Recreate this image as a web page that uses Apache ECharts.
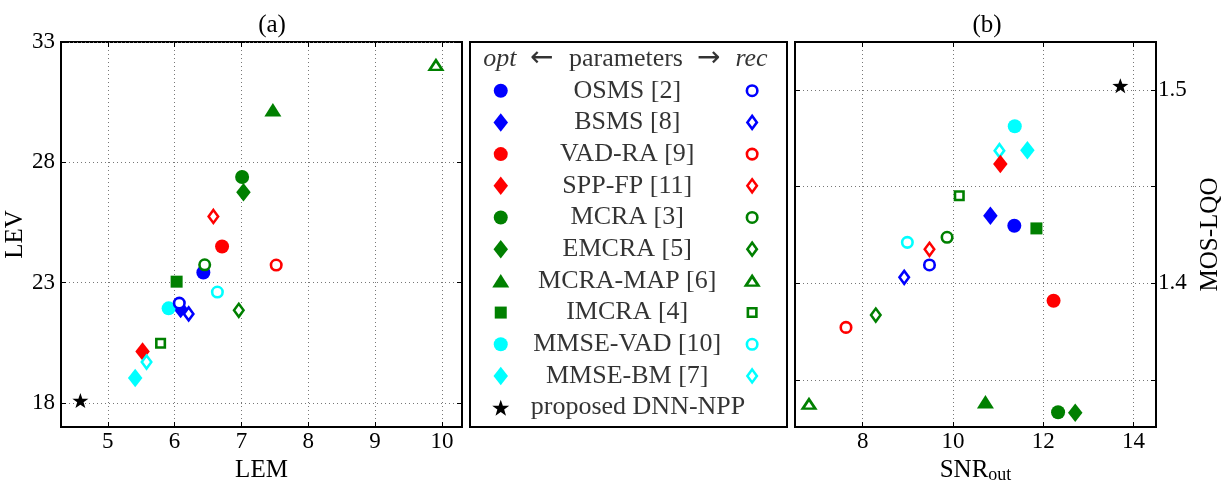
<!DOCTYPE html>
<html>
<head>
<meta charset="utf-8">
<script src="https://cdn.jsdelivr.net/npm/echarts@6/dist/echarts.min.js"></script>
<style>html,body{margin:0;padding:0;background:#fff;}#c{width:1231px;height:481px;}</style>
</head>
<body>
<div id="c"></div>
<script>
// ---------------- DATA ----------------
const methods = ['OSMS [2]', 'BSMS [8]', 'VAD-RA [9]', 'SPP-FP [11]', 'MCRA [3]', 'EMCRA [5]', 'MCRA-MAP [6]', 'IMCRA [4]', 'MMSE-VAD [10]', 'MMSE-BM [7]'];
// (a) LEM / LEV
const lemOpt = [6.43, 6.09, 6.71, 5.52, 7.01, 7.03, 7.47, 6.03, 5.91, 5.41];
const levOpt = [23.42, 21.90, 24.50, 20.14, 27.39, 26.76, 30.18, 23.04, 21.93, 19.04];
const lemRec = [6.07, 6.21, 7.52, 6.58, 6.45, 6.96, 9.91, 5.79, 6.64, 5.58];
const levRec = [22.15, 21.70, 23.73, 25.75, 23.74, 21.85, 32.04, 20.48, 22.61, 19.70];
// (b) SNRout / MOS-LQO
const snrOpt = [11.36, 10.83, 12.23, 11.05, 12.33, 12.71, 10.72, 11.85, 11.37, 11.65];
const mosOpt = [1.4298, 1.4350, 1.3910, 1.4617, 1.3333, 1.3331, 1.3388, 1.4284, 1.4812, 1.4688];
const snrRec = [9.48, 8.92, 7.63, 9.48, 9.87, 8.29, 6.81, 10.14, 8.99, 11.03];
const mosRec = [1.4095, 1.4031, 1.3772, 1.4176, 1.4238, 1.3836, 1.3376, 1.4453, 1.4212, 1.4686];
// proposed
const proposedName = 'proposed DNN-NPP';
const proposedLEM = [4.59];
const proposedLEV = [18.10];
const proposedSNR = [13.71];
const proposedMOS = [1.5022];
// ticks
const ticksLEM = [5, 6, 7, 8, 9, 10];
const ticksLEV = [18, 23, 28, 33];
const ticksSNR = [8, 10, 12, 14];
const ticksMOS = [1.35, 1.4, 1.45, 1.5];
const labelsMOS = [1.4, 1.5];
const legendHeader = ['opt', '←', 'parameters', '→', 'rec'];

// ---------------- STYLE ----------------
const FONT = 'Liberation Serif';
const colors = ['#0000ff', '#0000ff', '#ff0000', '#ff0000', '#008000', '#008000', '#008000', '#008000', '#00ffff', '#00ffff'];
const shapes = ['circle', 'diamond', 'circle', 'diamond', 'circle', 'diamond', 'triangle', 'rect', 'circle', 'diamond'];
const filledSize = { circle: [14, 14], diamond: [14.5, 18.5], triangle: [17, 13.5], rect: [12, 12] };
const openSize = { circle: [10.5, 10.5], diamond: [9.5, 13], triangle: [12.5, 9.5], rect: [8.5, 8.5] };
const STAR = 'path://M0,-10L2.35,-3.24L9.51,-3.09L3.8,1.24L5.88,8.09L0,4L-5.88,8.09L-3.8,1.24L-9.51,-3.09L-2.35,-3.24Z';
const headerX = [0.094, 0.226, 0.492, 0.753, 0.888];
const legOptX = 0.097, legRecX = 0.89, legTextX = 0.496, legPropTextX = 0.53;

const grids = [
  { left: 61, top: 42, width: 401, height: 385 },
  { left: 470, top: 42, width: 317, height: 385 },
  { left: 795, top: 42, width: 361, height: 385 }
];
grids.forEach(g => { g.show = true; g.borderColor = '#000'; g.borderWidth = 2; g.backgroundColor = '#fff'; g.containLabel = false; g.outerBoundsMode = 'none'; });

const split = { show: true, lineStyle: { type: [1, 3], color: '#777', width: 1 } };
function valAxis(gridIndex, position, min, max, ticks, opts) {
  opts = opts || {};
  return Object.assign({
    type: 'value', gridIndex, position, min, max,
    axisLine: { show: false },
    axisTick: { show: true, inside: true, length: 5, customValues: ticks, lineStyle: { color: '#000', width: 1 } },
    axisLabel: { show: false },
    splitLine: { show: false }
  }, opts);
}
const tickLabel = (margin, vals) => ({ show: true, customValues: vals, margin, color: '#000', fontFamily: FONT, fontSize: 23 });
const nameStyle = { color: '#000', fontFamily: FONT, fontSize: 25 };

const xAxis = [
  valAxis(0, 'bottom', 4.3, 10.3, ticksLEM, { axisLabel: tickLabel(3, ticksLEM), splitLine: split, name: 'LEM', nameLocation: 'middle', nameGap: 27, nameTextStyle: nameStyle }),
  valAxis(0, 'top', 4.3, 10.3, ticksLEM),
  { type: 'value', gridIndex: 1, min: 0, max: 1, show: false },
  valAxis(2, 'bottom', 6.5, 14.5, ticksSNR, { axisLabel: tickLabel(3, ticksSNR), splitLine: split, name: 'SNR{s|out}', nameLocation: 'middle', nameGap: 27,
    nameTextStyle: Object.assign({}, nameStyle, { rich: { s: { fontFamily: FONT, fontSize: 18, color: '#000', verticalAlign: 'bottom', padding: [10, 0, 0, 0] } } }) }),
  valAxis(2, 'top', 6.5, 14.5, ticksSNR)
];
const yAxis = [
  valAxis(0, 'left', 17, 33, ticksLEV, { axisLabel: tickLabel(6, ticksLEV), splitLine: split, name: 'LEV', nameLocation: 'middle', nameGap: 28, nameTextStyle: nameStyle }),
  valAxis(0, 'right', 17, 33, ticksLEV),
  { type: 'value', gridIndex: 1, min: -0.536, max: 11.61, inverse: true, show: false },
  valAxis(2, 'right', 1.3257, 1.5248, ticksMOS, { axisLabel: Object.assign(tickLabel(2, labelsMOS), { formatter: v => v.toFixed(1) }), splitLine: split,
    name: 'MOS-LQO', nameLocation: 'middle', nameGap: 42, nameTextStyle: nameStyle }),
  valAxis(2, 'left', 1.3257, 1.5248, ticksMOS)
];

const series = [];
function filledSeries(xi, yi, xs, ys, i, z) {
  return { type: 'scatter', xAxisIndex: xi, yAxisIndex: yi, z, symbol: shapes[i], symbolSize: filledSize[shapes[i]],
    itemStyle: { color: colors[i], opacity: 1 }, data: [[xs[i], ys[i]]], silent: true };
}
function openSeries(xi, yi, xs, ys, i, z) {
  return { type: 'scatter', xAxisIndex: xi, yAxisIndex: yi, z, symbol: shapes[i], symbolSize: openSize[shapes[i]],
    itemStyle: { color: '#fff', borderColor: colors[i], borderWidth: 2.6, opacity: 1 }, data: [[xs[i], ys[i]]], silent: true };
}
// (a): open markers drawn above filled ones
methods.forEach((m, i) => series.push(filledSeries(0, 0, lemOpt, levOpt, i, 2)));
methods.forEach((m, i) => series.push(openSeries(0, 0, lemRec, levRec, i, 3)));
series.push({ type: 'scatter', xAxisIndex: 0, yAxisIndex: 0, z: 4, symbol: STAR, symbolSize: [16, 15], itemStyle: { color: '#000', opacity: 1 }, data: [[proposedLEM[0], proposedLEV[0]]] });
// (b): filled markers drawn above open ones
methods.forEach((m, i) => series.push(openSeries(3, 3, snrRec, mosRec, i, 2)));
methods.forEach((m, i) => series.push(filledSeries(3, 3, snrOpt, mosOpt, i, 3)));
series.push({ type: 'scatter', xAxisIndex: 3, yAxisIndex: 3, z: 4, symbol: STAR, symbolSize: [16, 15], itemStyle: { color: '#000', opacity: 1 }, data: [[proposedSNR[0], proposedMOS[0]]] });

// legend panel (grid 1)
methods.forEach((m, i) => {
  series.push({ type: 'scatter', xAxisIndex: 2, yAxisIndex: 2, symbol: shapes[i], symbolSize: filledSize[shapes[i]], itemStyle: { color: colors[i], opacity: 1 }, data: [[legOptX, i + 1]] });
  series.push({ type: 'scatter', xAxisIndex: 2, yAxisIndex: 2, symbol: shapes[i], symbolSize: openSize[shapes[i]],
    itemStyle: { color: '#fff', borderColor: colors[i], borderWidth: 2.6, opacity: 1 }, data: [[legRecX, i + 1]] });
});
series.push({ type: 'scatter', xAxisIndex: 2, yAxisIndex: 2, symbol: STAR, symbolSize: [17, 16], itemStyle: { color: '#000', opacity: 1 }, data: [[legOptX, methods.length + 1]] });
const legTextData = methods.map((m, i) => [legTextX, i + 1, m]).concat([[legPropTextX, methods.length + 1, proposedName]]);
series.push({ type: 'scatter', xAxisIndex: 2, yAxisIndex: 2, symbolSize: 1, itemStyle: { color: 'transparent' }, data: legTextData,
  label: { show: true, position: 'inside', formatter: p => p.value[2], color: '#000', fontFamily: FONT, fontSize: 26 } });
const headerData = legendHeader.map((w, k) => ({
  value: [headerX[k], 0, w],
  label: (k === 0 || k === 4) ? { fontStyle: 'italic' } : (k === 1 || k === 3) ? { fontFamily: 'DejaVu Sans', fontSize: 28 } : {}
}));
series.push({ type: 'scatter', xAxisIndex: 2, yAxisIndex: 2, symbolSize: 1, itemStyle: { color: 'transparent' }, data: headerData,
  label: { show: true, position: 'inside', formatter: p => p.value[2], color: '#000', fontFamily: FONT, fontSize: 26 } });

const chart = echarts.init(document.getElementById('c'), null, { renderer: 'canvas' });
chart.setOption({
  animation: false,
  backgroundColor: '#fff',
  title: [
    { text: '(a)', left: 267, top: 8, textAlign: 'center', textStyle: { fontFamily: FONT, fontSize: 25, fontWeight: 'normal', color: '#000' } },
    { text: '(b)', left: 982, top: 8, textAlign: 'center', textStyle: { fontFamily: FONT, fontSize: 25, fontWeight: 'normal', color: '#000' } }
  ],
  grid: grids,
  xAxis, yAxis, series
});
</script>
</body>
</html>
